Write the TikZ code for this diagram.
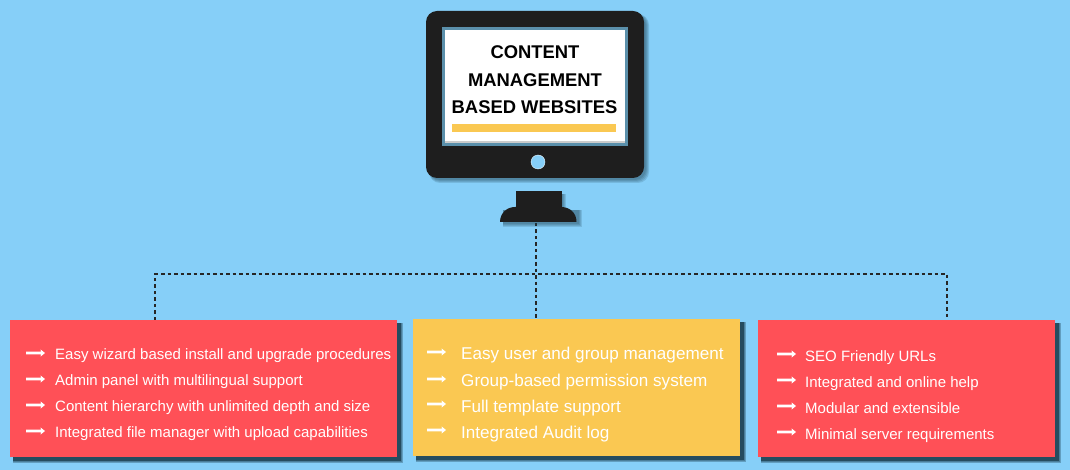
\documentclass[tikz,border=0pt]{standalone}
\usepackage{fontspec}
\setmainfont{Liberation Sans}
\definecolor{bgblue}{HTML}{86CFF8}
\definecolor{redbox}{HTML}{FF5057}
\definecolor{yelbox}{HTML}{FAC852}
\definecolor{monblack}{HTML}{1E1E1E}
\definecolor{frameblue}{HTML}{5B90AB}
\definecolor{boxshadow}{HTML}{1F4455}
\tikzset{
  x=1pt,y=-1pt,
  panel/.style={draw=none,minimum width=#1,inner sep=0pt,minimum height=137pt,anchor=north west},
  softshade/.style={fill=boxshadow,opacity=.16,draw=none},
  edgeshade/.style={fill=boxshadow,opacity=.35,draw=none},
  hardshade/.style={fill=boxshadow,draw=none,opacity=.85},
  linkline/.style={draw=black!85,line width=1.3pt,dash pattern=on 3.5pt off 3pt},
  itemleft/.style={text=white,anchor=base west,inner sep=0pt,font=\fontsize{15}{16}\selectfont},
  itemmid/.style={text=white,anchor=base west,inner sep=0pt,font=\fontsize{17.1}{18}\selectfont},
  titletext/.style={text=black,anchor=base,inner sep=0pt,font=\bfseries\fontsize{18.4}{20}\selectfont},
}
\newcommand{\bulletarrow}[2]{%
  \fill[white] (#1,#2-1.4) -- (#1+15,#2-1.4) -- (#1+14.5,#2-3.6) -- (#1+19,#2) -- (#1+14.5,#2+3.6) -- (#1+15,#2+1.4) -- (#1,#2+1.4) -- cycle;}
\begin{document}
\begin{tikzpicture}
\useasboundingbox[fill=bgblue] (0,0) rectangle (1070,470);
% connectors sit under the panels
\coordinate (hub) at (536,274);
\coordinate (hubleft) at (155,274);
\coordinate (hubright) at (947,274);
\coordinate (standfoot) at (536,223);
\coordinate (dropleft) at (155,320);
\coordinate (dropmid) at (536,320);
\coordinate (dropright) at (947,320);
\draw[linkline] (standfoot) -- (dropmid);
\draw[linkline] (dropleft) -- (hubleft) -- (hubright) -- (dropright);
% monitor shadow
\fill[softshade,rounded corners=11pt] (429,14) rectangle (649,183);
\fill[softshade,rounded corners=11pt] (429,14) rectangle (648,182);
\fill[softshade,rounded corners=11pt] (429,14) rectangle (647,181);
\fill[softshade,rounded corners=11pt] (429,14) rectangle (646,180);
\foreach \e in {0,1,2,3}{
  \fill[softshade] (503,210) rectangle (578.5+\e,224+\e);
  \fill[softshade] (518,194) rectangle (562.5+\e,208);
}
% monitor
\fill[monblack,rounded corners=11pt] (426,11) rectangle (644,178);
\fill[frameblue] (442,27) rectangle (628,146);
\fill[white] (445,30) rectangle (625,141.5);
\fill[white!80!black] (445,141.5) rectangle (625,143);
\fill[yelbox] (452,124) rectangle (616,132);
\fill[bgblue,draw=white!85!bgblue,line width=.4pt] (538,162) circle (7);
% stand
\fill[monblack] (515.5,191) rectangle (561.5,207) ;
\fill[monblack] (500,222) .. controls (500,213) and (507,207) .. (515,207) -- (561,207) .. controls (570,207) and (576.5,213) .. (576.5,222) -- cycle;
% title
\node[titletext] (t1) at (535,59) {CONTENT};
\node[titletext] (t2) at (535,87) {MANAGEMENT};
\node[titletext] (t3) at (534.5,114) {BASED WEBSITES};
% panel shadows
\foreach \a/\b/\c/\d in {10/320/397/457,413/319/740/456,758/320/1055/457}{
  \fill[edgeshade] (\a+3,\b+3) rectangle (\c+6,\d+6);
  \fill[edgeshade] (\a+3,\b+3) rectangle (\c+5,\d+5);
  \fill[hardshade] (\a+3,\b+3) rectangle (\c+4,\d+4);
}
% panels
\node[panel=387pt,fill=redbox] (leftbox) at (10,320) {};
\node[panel=327pt,fill=yelbox] (midbox) at (413,319) {};
\node[panel=297pt,fill=redbox] (rightbox) at (758,320) {};
% left items
\foreach \yy in {353,379,405,431}{\bulletarrow{26}{\yy}}
\node[itemleft] (l1) at (55,359) {Easy wizard based install and upgrade procedures};
\node[itemleft] (l2) at (55,385) {Admin panel with multilingual support};
\node[itemleft] (l3) at (55,411) {Content hierarchy with unlimited depth and size};
\node[itemleft] (l4) at (55,437) {Integrated file manager with upload capabilities};
% middle items
\foreach \yy in {352,379,404,430}{\bulletarrow{427}{\yy}}
\node[itemmid] (m1) at (461,359.5) {Easy user and group management};
\node[itemmid] (m2) at (461,386.5) {Group-based permission system};
\node[itemmid] (m3) at (461,412.5) {Full template support};
\node[itemmid] (m4) at (461,438.5) {Integrated Audit log};
% right items
\foreach \yy in {354,380,406,432}{\bulletarrow{777}{\yy}}
\node[itemleft] (r1) at (805,361) {SEO Friendly URLs};
\node[itemleft] (r2) at (805,387) {Integrated and online help};
\node[itemleft] (r3) at (805,413) {Modular and extensible};
\node[itemleft] (r4) at (805,439) {Minimal server requirements};
\end{tikzpicture}
\end{document}
